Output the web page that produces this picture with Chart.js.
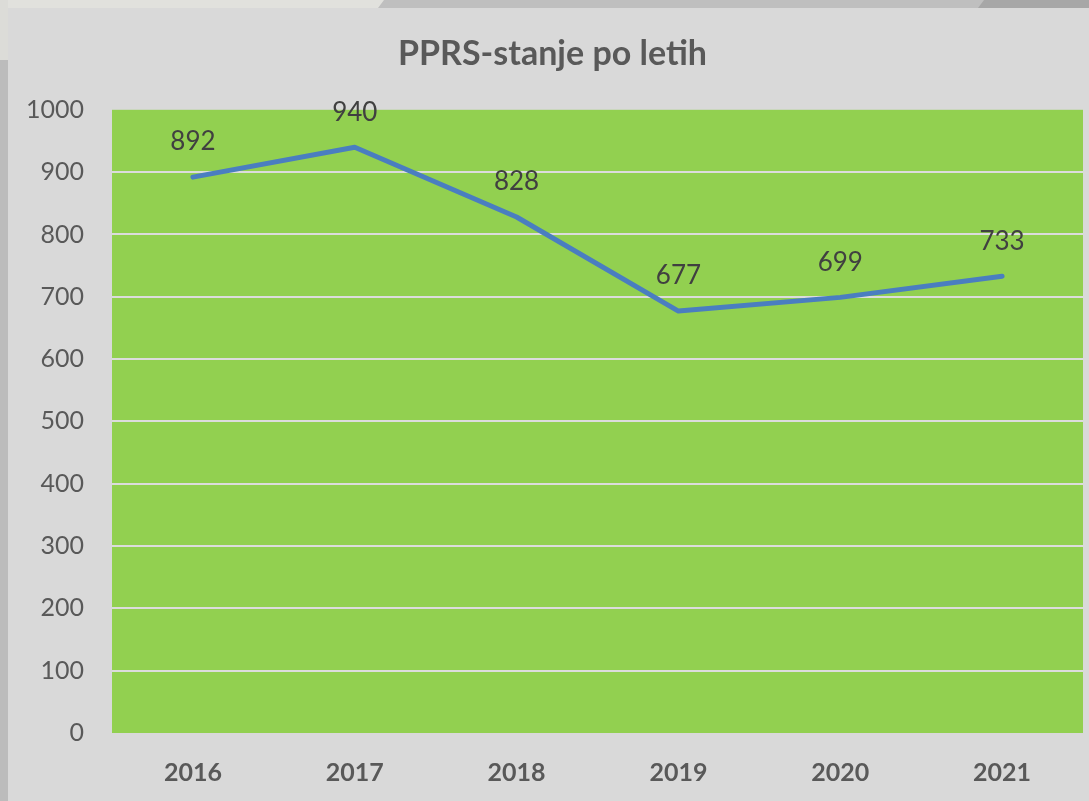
<!DOCTYPE html>
<html>
<head>
<meta charset="utf-8">
<script src="https://cdn.jsdelivr.net/npm/chart.js@4.4.1/dist/chart.umd.min.js"></script>
<style>
    html, body { margin: 0; padding: 0; }
    body { width: 1089px; height: 801px; position: relative; overflow: hidden; background: #bcbcbc; }
    .band-light { position: absolute; left: 0; top: 0; width: 400px; height: 8px; background: #e1e1dd; }
    .band-mid { position: absolute; left: 378px; top: 0; width: 711px; height: 8px; background: #bfbfbf; clip-path: polygon(6px 0, 100% 0, 100% 100%, 0 100%); }
    .band-dark { position: absolute; left: 978px; top: 0; width: 111px; height: 8px; background: #a7a7a7; clip-path: polygon(6px 0, 100% 0, 100% 100%, 0 100%); }
    .left-top { position: absolute; left: 0; top: 0; width: 8px; height: 60px; background: #dcdcd8; }
    .card { position: absolute; left: 8px; top: 8px; right: 0; bottom: 0; background: #d9d9d9; }
    #wrap { position: absolute; left: 0; top: 0; width: 1089px; height: 801px; }
</style>
</head>
<body>
<div class="band-light"></div>
<div class="band-mid"></div>
<div class="band-dark"></div>
<div class="left-top"></div>
<div class="card"></div>
<div id="wrap"><canvas id="chart"></canvas></div>
<script>
    // Data
    const years = ['2016', '2017', '2018', '2019', '2020', '2021'];
    const values = [892, 940, 828, 677, 699, 733];
    const yTicks = [0, 100, 200, 300, 400, 500, 600, 700, 800, 900, 1000];

    // Green plot background
    const plotBackground = {
        id: 'plotBackground',
        beforeDraw: function (chart) {
            const a = chart.chartArea;
            const ctx = chart.ctx;
            ctx.save();
            ctx.fillStyle = '#92d050';
            ctx.fillRect(a.left, a.top, a.right - a.left, a.bottom - a.top);
            ctx.restore();
        }
    };

    // Value labels above points
    const valueLabels = {
        id: 'valueLabels',
        afterDatasetsDraw: function (chart) {
            const ctx = chart.ctx;
            const meta = chart.getDatasetMeta(0);
            ctx.save();
            ctx.font = '26px Lato';
            ctx.fillStyle = '#404040';
            ctx.textAlign = 'center';
            ctx.textBaseline = 'middle';
            meta.data.forEach(function (pt, i) {
                ctx.fillText(String(values[i]), pt.x, pt.y - 35);
            });
            ctx.restore();
        }
    };

    new Chart(document.getElementById('chart').getContext('2d'), {
        type: 'line',
        data: {
            labels: years,
            datasets: [{
                label: 'PPRS',
                data: values,
                borderColor: '#4a7ec0',
                borderWidth: 5,
                borderCapStyle: 'round',
                borderJoinStyle: 'round',
                pointRadius: 0,
                tension: 0,
                fill: false
            }]
        },
        options: {
            responsive: true,
            maintainAspectRatio: false,
            animation: false,
            layout: {
                padding: { left: 22, right: 6, top: 0, bottom: 0 }
            },
            scales: {
                x: {
                    offset: true,
                    grid: { display: false, drawTicks: false },
                    border: { display: false },
                    ticks: {
                        color: '#595959',
                        font: { family: 'Lato', size: 25, weight: 'bold' },
                        padding: 25
                    },
                    afterFit: function (scale) { scale.height = 68; }
                },
                y: {
                    min: 0,
                    max: 1000,
                    afterBuildTicks: function (scale) {
                        scale.ticks = yTicks.map(function (v) { return { value: v }; });
                    },
                    grid: {
                        color: function (c) {
                            return (c.tick.value === 0 || c.tick.value === 1000) ? 'rgba(0,0,0,0)' : '#dcdcdc';
                        },
                        lineWidth: 2,
                        drawTicks: false
                    },
                    border: { display: false },
                    ticks: {
                        color: '#595959',
                        font: { family: 'Lato', size: 25 },
                        padding: 28,
                        callback: function (v) { return String(v); }
                    },
                    afterFit: function (scale) { scale.width = 90; }
                }
            },
            plugins: {
                legend: { display: false },
                tooltip: { enabled: false },
                title: {
                    display: true,
                    text: 'PPRS-stanje po letih',
                    color: '#595959',
                    font: { family: 'Lato', size: 34, weight: 'bold', lineHeight: 1.2 },
                    padding: { top: 34, bottom: 35 }
                }
            }
        },
        plugins: [plotBackground, valueLabels]
    });
</script>
</body>
</html>
